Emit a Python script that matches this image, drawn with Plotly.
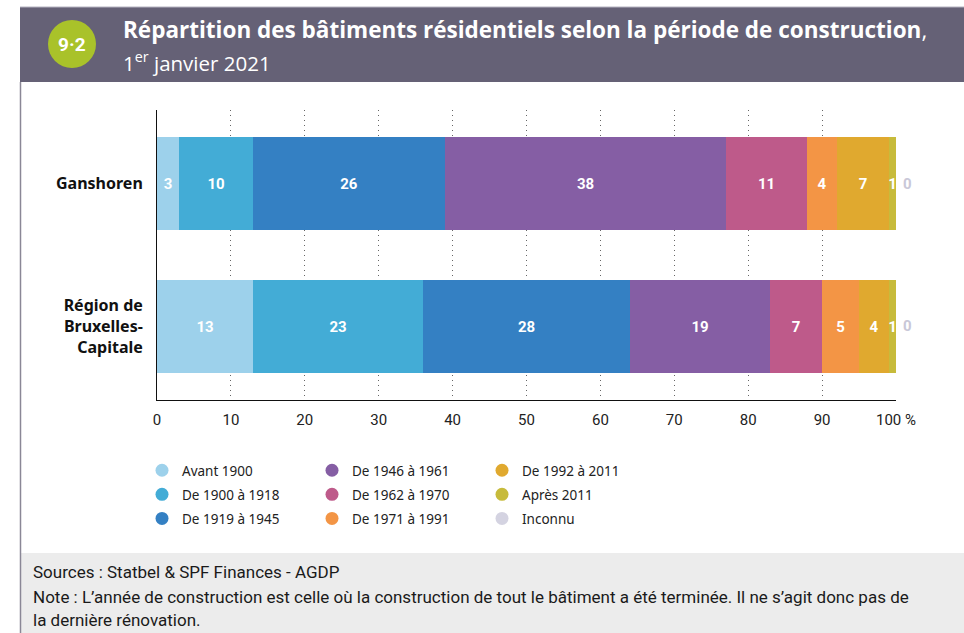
import plotly.graph_objects as go

# ---- data -------------------------------------------------------------
regions = ["Ganshoren", "Région de<br>Bruxelles-<br>Capitale"]
periods = [
    "Avant 1900", "De 1900 à 1918", "De 1919 à 1945",
    "De 1946 à 1961", "De 1962 à 1970", "De 1971 à 1991",
    "De 1992 à 2011", "Après 2011", "Inconnu",
]
ganshoren = [3, 10, 26, 38, 11, 4, 7, 1, 0]
bruxelles = [13, 23, 28, 19, 7, 5, 4, 1, 0]
colors = [
    "#9dd1eb", "#43acd6", "#3480c3",
    "#855ea4", "#be5a8a", "#f39545",
    "#e0a92f", "#c7bb3b", "#d4d3e1",
]
x_ticks = [0, 10, 20, 30, 40, 50, 60, 70, 80, 90, 100]
x_ticktext = ["0", "10", "20", "30", "40", "50", "60", "70", "80", "90", "100 %"]

COND = "Roboto, sans-serif"

# ---- pixel helpers for the page frame ---------------------------------
W, H = 964, 633
L, R, T, B = 157, 896, 110, 400


def xp(px):
    return (px - L) / (R - L)


def yp(py):
    return (B - py) / (B - T)


fig = go.Figure()

# stacked horizontal bars
for i, (name, col) in enumerate(zip(periods, colors)):
    vals = [ganshoren[i], bruxelles[i]]
    has_text = any(v > 0 for v in vals)
    fig.add_trace(go.Bar(
        y=regions, x=vals, name=name, orientation="h",
        marker=dict(color=col, line=dict(width=0)),
        width=0.65,
        text=[str(v) for v in vals],
        textposition="inside" if has_text else "none",
        insidetextanchor="middle",
        constraintext="none", textangle=0,
        textfont=dict(family=COND, size=15, color="white", weight="bold"),
        showlegend=False, hoverinfo="skip", cliponaxis=False,
    ))

# legend entries with round markers, three columns
for i, (name, col) in enumerate(zip(periods, colors)):
    leg = ["legend", "legend2", "legend3"][i // 3]
    fig.add_trace(go.Scatter(
        x=[None], y=[None], mode="markers", name=name,
        marker=dict(symbol="circle", size=13, color=col),
        legend=leg, legendgroup=name, showlegend=True,
    ))

# zero labels for the unknown category, to the right of each bar
annotations = []
for reg, series in zip(regions, [ganshoren, bruxelles]):
    annotations.append(dict(
        x=sum(series), y=reg, xref="x", yref="y", text=str(series[-1]),
        showarrow=False, xanchor="left", xshift=5,
        font=dict(family=COND, size=15, color="#c9c8d8", weight="bold"),
    ))

# header
annotations += [
    dict(x=xp(72), y=yp(44), xref="paper", yref="paper", text="<b>9·2</b>",
         showarrow=False, xanchor="center", yanchor="middle",
         font=dict(family="Roboto", size=19, color="white")),
    dict(x=xp(121), y=yp(29), xref="paper", yref="paper",
         text="<b>Répartition des bâtiments résidentiels selon la période de construction</b>,",
         showarrow=False, xanchor="left", yanchor="middle",
         font=dict(family="Open Sans", size=22.5, color="white")),
    dict(x=xp(121), y=yp(62), xref="paper", yref="paper",
         text="1<sup>er</sup> janvier 2021",
         showarrow=False, xanchor="left", yanchor="middle",
         font=dict(family="Open Sans", size=20.5, color="white")),
]

# footer
foot = [
    "Sources : Statbel & SPF Finances - AGDP",
    "Note : L’année de construction est celle où la construction de tout le bâtiment a été terminée. Il ne s’agit donc pas de",
    "la dernière rénovation.",
]
for txt, py in zip(foot, [572, 597, 620]):
    annotations.append(dict(
        x=xp(31), y=yp(py), xref="paper", yref="paper", text=txt,
        showarrow=False, xanchor="left", yanchor="middle",
        font=dict(family=COND, size=17, color="#1a1a1a"),
    ))

shapes = [
    # header band
    dict(type="rect", xref="paper", yref="paper", x0=xp(20), x1=xp(970), y0=yp(82), y1=yp(7),
         fillcolor="#656176", line=dict(width=0), layer="above"),
    dict(type="line", xref="paper", yref="paper", x0=xp(20), x1=xp(970), y0=yp(7), y1=yp(7),
         line=dict(color="#b5b3c0", width=1), layer="above"),
    # badge
    dict(type="circle", xref="paper", yref="paper", x0=xp(48), x1=xp(96), y0=yp(68), y1=yp(20),
         fillcolor="#a9c22a", line=dict(width=0), layer="above"),
    # footer band
    dict(type="rect", xref="paper", yref="paper", x0=xp(20), x1=xp(970), y0=yp(640), y1=yp(553),
         fillcolor="#ececec", line=dict(width=0), layer="below"),
    # left frame line
    dict(type="line", xref="paper", yref="paper", x0=xp(20.5), x1=xp(20.5), y0=yp(640), y1=yp(82),
         line=dict(color="#8a8796", width=1.5), layer="above"),
]

legend_common = dict(
    orientation="v", xanchor="left", yanchor="top", y=yp(455),
    font=dict(family="Noto Sans", size=13.5, color="#222"),
    bgcolor="rgba(0,0,0,0)", borderwidth=0, tracegroupgap=3.5, traceorder="grouped",
    itemclick=False, itemdoubleclick=False,
)

fig.update_layout(
    width=W, height=H,
    margin=dict(l=L, r=W - R, t=T, b=H - B),
    paper_bgcolor="white", plot_bgcolor="white",
    barmode="stack", bargap=0,
    xaxis=dict(
        range=[0, 100], tickvals=x_ticks, ticktext=x_ticktext,
        showgrid=True, gridcolor="#666", gridwidth=1, griddash="1px,4px",
        zeroline=False, showline=True, linecolor="#111", linewidth=1,
        ticks="", ticklabelstandoff=6,
        tickfont=dict(family=COND, size=15, color="#222"),
        fixedrange=True,
    ),
    yaxis=dict(
        categoryorder="array", categoryarray=regions,
        range=[1.515, -0.515],
        showgrid=False, zeroline=False, showline=True, linecolor="#111", linewidth=1,
        ticks="", ticklabelstandoff=10,
        tickfont=dict(family="Noto Sans", size=16, color="#111", weight="bold"),
        fixedrange=True,
    ),
    legend=dict(x=xp(142), **legend_common),
    legend2=dict(x=xp(312), **legend_common),
    legend3=dict(x=xp(482), **legend_common),
    annotations=annotations,
    shapes=shapes,
)

fig.write_html("out.html")
